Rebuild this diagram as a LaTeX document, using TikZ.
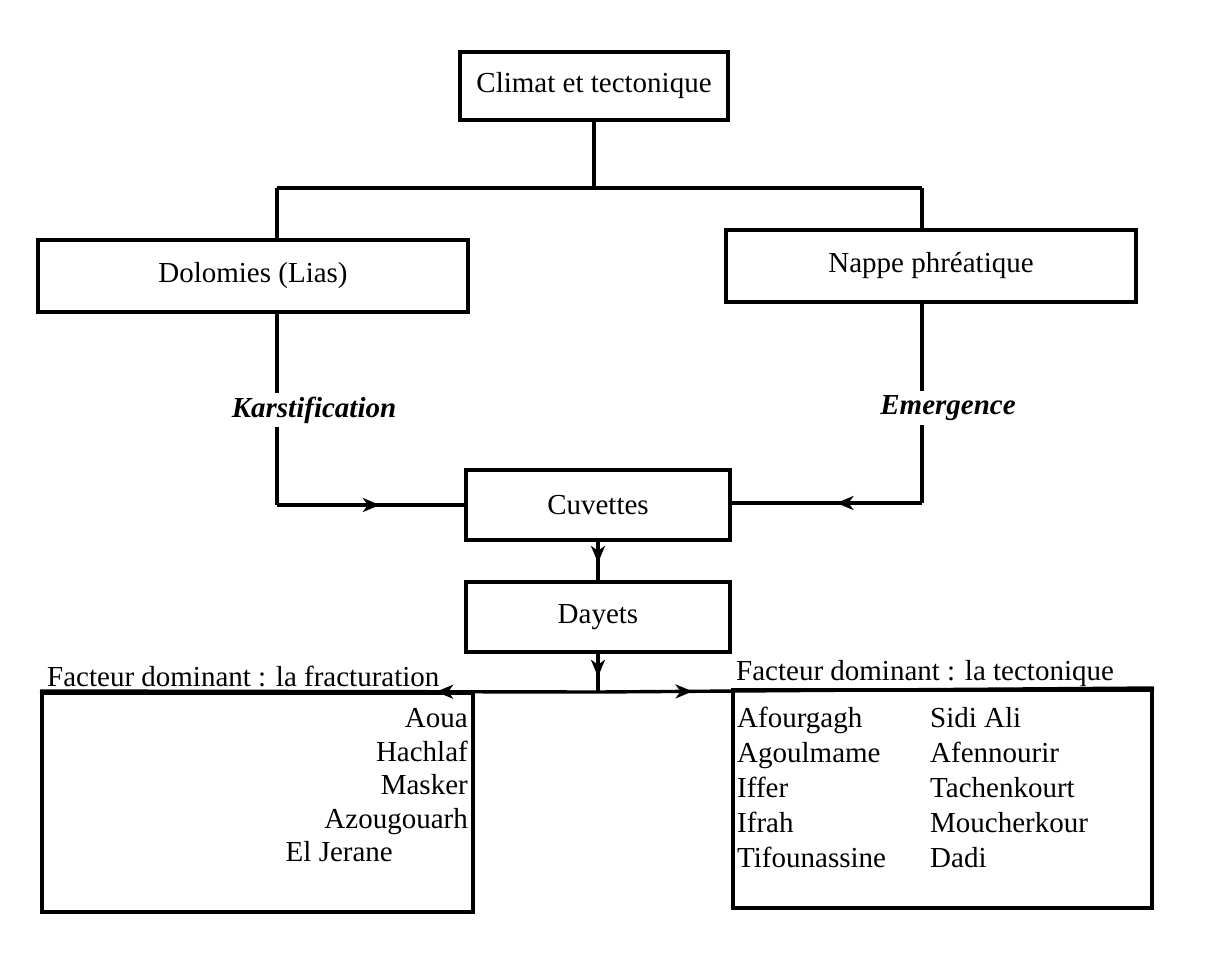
\documentclass[tikz,border=0pt]{standalone}
\usepackage{fontspec}
\setmainfont{Liberation Serif}
\usetikzlibrary{arrows.meta,decorations.markings}
\begin{document}
\begin{tikzpicture}[x=1pt,y=-1pt,
  every node/.style={font=\fontsize{29}{34}\selectfont},
  box/.style={draw,line width=4pt,rectangle,inner sep=0pt,align=center},
  conn/.style={line width=3.4pt},
  lab/.style={font=\fontsize{29}{34}\selectfont\bfseries\itshape,inner sep=4pt},
  txt/.style={inner sep=0pt},
  marrow/.style={conn,postaction={decorate},decoration={markings,mark=at position #1 with {\arrow{Stealth[length=17pt,width=14pt,inset=5pt]}}}}
]
\useasboundingbox (0,0) rectangle (1206,965);
% boxes
\node[box,minimum width=268pt,minimum height=68pt] (climat) at (594,86) {Climat et tectonique};
\node[box,minimum width=430pt,minimum height=72pt] (dol) at (253,276) {Dolomies (Lias)};
\node[box,minimum width=410pt,minimum height=72pt] (nappe) at (931,266) {Nappe phréatique};
\node[box,minimum width=264pt,minimum height=70pt] (cuv) at (598,505) {Cuvettes};
\node[box,minimum width=264pt,minimum height=70pt] (day) at (598,617) {Dayets};
\node[box,minimum width=431pt,minimum height=219pt] (lbox) at (257.5,802.5) {};
\node[box,minimum width=419pt,minimum height=218pt] (rbox) at (942.5,799) {};
% labels
\node[lab] (karst) at (314,410) {Karstification};
\node[lab] (emer) at (948,408) {Emergence};
\node[txt,anchor=base west] (fl) at (47,686) {Facteur dominant : la fracturation};
\node[txt,anchor=base west] (fr) at (736,680) {Facteur dominant : la tectonique};
% left list
\node[txt,anchor=base east] (l1) at (468,727) {Aoua};
\node[txt,anchor=base east] (l2) at (468,761) {Hachlaf};
\node[txt,anchor=base east] (l3) at (468,794) {Masker};
\node[txt,anchor=base east] (l4) at (468,828) {Azougouarh};
\node[txt,anchor=base east] (l5) at (393,861) {El Jerane};
% right list
\node[txt,anchor=base west] (r1) at (737,727) {Afourgagh};
\node[txt,anchor=base west] (r2) at (737,762) {Agoulmame};
\node[txt,anchor=base west] (r3) at (737,797) {Iffer};
\node[txt,anchor=base west] (r4) at (737,832) {Ifrah};
\node[txt,anchor=base west] (r5) at (737,867) {Tifounassine};
\node[txt,anchor=base west] (s1) at (930,727) {Sidi Ali};
\node[txt,anchor=base west] (s2) at (930,762) {Afennourir};
\node[txt,anchor=base west] (s3) at (930,797) {Tachenkourt};
\node[txt,anchor=base west] (s4) at (930,832) {Moucherkour};
\node[txt,anchor=base west] (s5) at (930,867) {Dadi};
% coordinates
\coordinate (j) at (594,188);
\coordinate (jl) at (277,188);
\coordinate (jr) at (922,188);
\coordinate (kl) at (277,505);
\coordinate (kr) at (922,503);
\coordinate (bj) at (598,692);
% connectors
\draw[conn] (climat.south) -- (j);
\draw[conn] (jl) -- (jr);
\draw[conn] (jl) -- (jl |- dol.north);
\draw[conn] (jr) -- (jr |- nappe.north);
\draw[conn] (jl |- dol.south) -- (jl |- karst.north);
\draw[conn] (jl |- karst.south) -- (kl);
\draw[marrow=0.55] (kl) -- (cuv.west);
\draw[conn] (jr |- nappe.south) -- (jr |- emer.north);
\draw[conn] (jr |- emer.south) -- (kr);
\draw[marrow=0.45] (kr) -- (cuv.east |- kr);
\draw[marrow=0.55] (cuv.south) -- (day.north);
\draw[marrow=0.6] (day.south) -- (bj);
\draw[marrow=0.29] (bj) -- (lbox.north west);
\draw[marrow=0.17] (bj) -- (rbox.north east);
\end{tikzpicture}
\end{document}
